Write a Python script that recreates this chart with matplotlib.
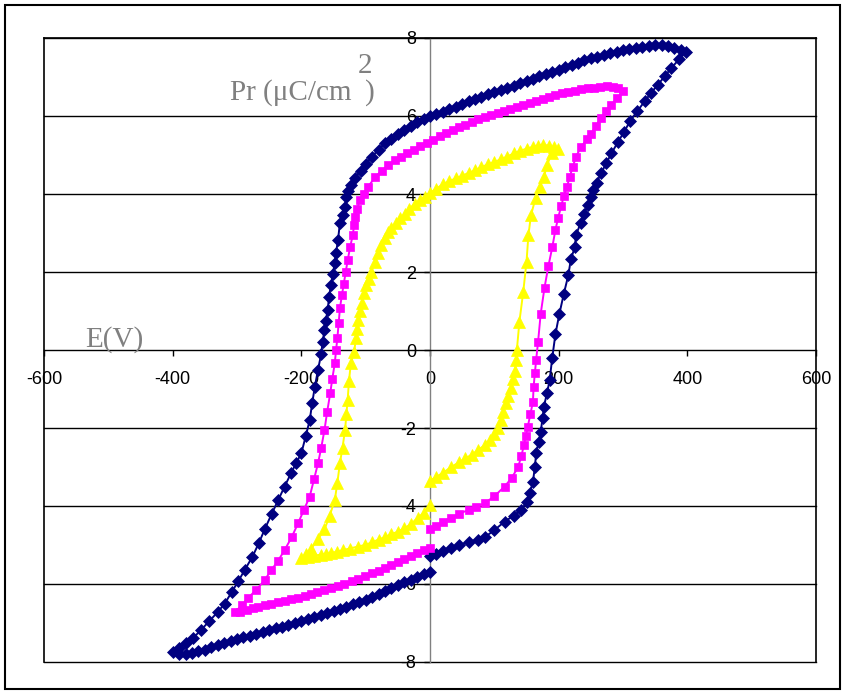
import matplotlib
matplotlib.use('Agg')
import matplotlib.pyplot as plt
from matplotlib.patches import Rectangle

plt.rcParams['font.family'] = ['Liberation Sans', 'DejaVu Sans']

# ---- data (E in V, P in uC/cm2), traversal order ----
navy_pts = [
    (0, -5.28), (10, -5.22), (20, -5.15), (33, -5.08), (45, -5.0), (60, -4.93), (75, -4.86), (85, -4.8),
    (100, -4.62), (116, -4.4), (130, -4.25), (142, -4.1), (150, -3.9), (155, -3.67), (160, -3.38),
    (163, -3.0), (165, -2.65), (169, -2.35), (172, -2.1), (175, -1.75), (177, -1.45), (182, -1.1),
    (186, -0.77), (190, -0.2), (195, 0.41), (201, 0.92), (208, 1.44), (215, 1.92), (219, 2.33),
    (225, 2.63), (227, 2.95), (234, 3.25), (239, 3.49), (246, 3.72), (250, 3.93), (253, 4.1),
    (259, 4.29), (266, 4.53), (274, 4.79), (282, 5.04), (292, 5.33), (302, 5.6), (311, 5.87),
    (322, 6.12), (334, 6.38), (344, 6.6), (354, 6.8), (365, 7.02), (375, 7.23), (387, 7.45), (398, 7.64),
    (390, 7.7), (380, 7.75), (370, 7.79), (360, 7.81), (350, 7.81), (340, 7.79), (330, 7.77), (320, 7.74),
    (310, 7.71), (300, 7.69), (290, 7.65), (280, 7.61), (270, 7.56), (260, 7.52), (250, 7.48), (240, 7.43),
    (230, 7.37), (220, 7.3), (210, 7.25), (200, 7.19), (190, 7.14), (180, 7.08), (170, 7.02), (160, 6.96),
    (150, 6.9), (140, 6.84), (130, 6.78), (120, 6.72), (110, 6.67), (100, 6.62), (90, 6.56), (80, 6.5),
    (70, 6.44), (60, 6.38), (50, 6.31), (40, 6.24), (30, 6.18), (20, 6.11), (10, 6.05), (0, 5.99),
    (-10, 5.92), (-20, 5.84), (-30, 5.75), (-40, 5.65), (-50, 5.55), (-60, 5.42), (-70, 5.3), (-80, 5.14),
    (-90, 4.96), (-100, 4.77), (-108, 4.6), (-117, 4.4), (-123, 4.22), (-127, 4.08), (-130, 3.93),
    (-132, 3.67), (-136, 3.45), (-140, 3.26), (-143, 2.82), (-146, 2.5), (-148, 2.23), (-151, 1.95),
    (-154, 1.67), (-157, 1.35), (-159, 1.03), (-162, 0.75), (-164, 0.51), (-167, 0.2), (-169, -0.09),
    (-174, -0.5), (-179, -0.94), (-183, -1.35), (-187, -1.8), (-193, -2.2), (-200, -2.65), (-208, -2.9),
    (-216, -3.16), (-226, -3.5), (-236, -3.85), (-246, -4.2), (-257, -4.6), (-266, -4.95), (-276, -5.3),
    (-288, -5.64), (-298, -5.93), (-308, -6.2), (-319, -6.5), (-330, -6.72), (-343, -6.95), (-356, -7.18),
    (-368, -7.38), (-380, -7.52), (-390, -7.64), (-400, -7.74),
    (-390, -7.8), (-380, -7.79), (-370, -7.76), (-360, -7.72), (-350, -7.68), (-340, -7.62), (-330, -7.57),
    (-320, -7.52), (-310, -7.47), (-300, -7.42), (-290, -7.37), (-280, -7.33), (-270, -7.28), (-260, -7.23),
    (-250, -7.18), (-240, -7.14), (-230, -7.09), (-220, -7.04), (-210, -6.99), (-200, -6.94), (-190, -6.89),
    (-180, -6.84), (-170, -6.79), (-160, -6.74), (-150, -6.69), (-140, -6.64), (-130, -6.58), (-120, -6.52),
    (-110, -6.47), (-100, -6.4), (-90, -6.33), (-80, -6.26), (-70, -6.19), (-60, -6.11), (-50, -6.03),
    (-40, -5.96), (-30, -5.89), (-20, -5.81), (-10, -5.75), (0, -5.68),
]

magenta_pts = [
    (0, -4.6), (10, -4.5), (20, -4.4), (33, -4.3), (45, -4.2), (60, -4.1), (72, -4.02), (85, -3.93),
    (100, -3.75), (116, -3.5), (127, -3.28), (137, -3.0), (142, -2.72), (146, -2.44), (149, -2.2),
    (152, -1.97), (156, -1.65), (160, -1.33), (161, -0.95), (163, -0.6), (165, -0.25), (168, 0.21),
    (172, 0.92), (178, 1.6), (184, 2.15), (190, 2.63), (195, 3.08), (199, 3.38), (204, 3.69), (208, 3.95),
    (213, 4.19), (217, 4.43), (222, 4.7), (227, 4.96), (235, 5.21), (244, 5.4), (251, 5.55), (258, 5.75),
    (266, 5.95), (274, 6.12), (282, 6.29), (290, 6.45), (300, 6.63),
    (293, 6.72), (285, 6.75), (275, 6.76), (265, 6.75), (255, 6.73), (245, 6.71), (235, 6.68), (225, 6.65),
    (215, 6.62), (205, 6.58), (195, 6.53), (185, 6.48), (175, 6.43), (165, 6.38), (155, 6.33), (145, 6.28),
    (135, 6.23), (125, 6.18), (115, 6.13), (105, 6.08), (95, 6.03), (85, 5.97), (75, 5.92), (65, 5.85),
    (55, 5.78), (45, 5.71), (35, 5.63), (25, 5.56), (15, 5.48), (5, 5.39), (-5, 5.31), (-15, 5.23),
    (-25, 5.14), (-35, 5.05), (-45, 4.96), (-55, 4.86), (-65, 4.74), (-75, 4.6), (-85, 4.44), (-96, 4.19),
    (-103, 4.0), (-109, 3.85), (-113, 3.62), (-117, 3.42), (-118, 3.2), (-120, 2.95), (-124, 2.65),
    (-128, 2.3), (-131, 2.0), (-134, 1.7), (-137, 1.4), (-140, 1.07), (-142, 0.7), (-144, 0.3), (-146, 0.0),
    (-148, -0.34), (-152, -0.75), (-155, -1.1), (-160, -1.6), (-164, -2.05), (-169, -2.5), (-174, -2.9),
    (-180, -3.3), (-187, -3.76), (-196, -4.1), (-205, -4.44), (-215, -4.8), (-226, -5.13), (-236, -5.4),
    (-247, -5.65), (-257, -5.9), (-270, -6.15), (-283, -6.36), (-293, -6.55), (-303, -6.72),
    (-295, -6.71), (-285, -6.66), (-275, -6.62), (-267, -6.59), (-257, -6.55), (-247, -6.51), (-236, -6.47),
    (-226, -6.43), (-216, -6.39), (-205, -6.35), (-195, -6.3), (-185, -6.25), (-175, -6.2), (-164, -6.15),
    (-154, -6.1), (-143, -6.04), (-133, -5.99), (-122, -5.93), (-112, -5.87), (-101, -5.8), (-90, -5.73),
    (-80, -5.66), (-70, -5.58), (-60, -5.5), (-50, -5.43), (-40, -5.36), (-30, -5.28), (-20, -5.2),
    (-10, -5.13), (0, -5.08),
]

yellow_pts = [
    (0, -3.35), (10, -3.25), (20, -3.15), (33, -3.0), (45, -2.88), (55, -2.78), (65, -2.68), (75, -2.56),
    (85, -2.44), (93, -2.3), (100, -2.15), (106, -2.0), (110, -1.8), (114, -1.6), (118, -1.37),
    (122, -1.18), (126, -0.98), (129, -0.75), (132, -0.55), (134, -0.25), (135, 0.0), (139, 0.73),
    (145, 1.5), (150, 2.26), (153, 2.95), (157, 3.46), (164, 3.89), (171, 4.19), (177, 4.44), (182, 4.74),
    (189, 5.04), (199, 5.15),
    (192, 5.2), (185, 5.24), (176, 5.26), (168, 5.24), (160, 5.21), (150, 5.16), (140, 5.11), (130, 5.04),
    (120, 4.96), (110, 4.89), (100, 4.82), (90, 4.76), (80, 4.69), (70, 4.61), (60, 4.54), (50, 4.47),
    (40, 4.4), (30, 4.33), (20, 4.25), (10, 4.14), (0, 4.03), (-8, 3.93), (-16, 3.84), (-24, 3.75),
    (-32, 3.62), (-39, 3.5), (-46, 3.38), (-53, 3.25), (-60, 3.12), (-65, 3.03), (-70, 2.88), (-76, 2.68),
    (-81, 2.48), (-86, 2.25), (-91, 2.0), (-95, 1.83), (-99, 1.67), (-103, 1.45), (-106, 1.2), (-109, 1.0),
    (-112, 0.77), (-114, 0.55), (-115, 0.3), (-118, -0.05), (-123, -0.34), (-126, -0.8), (-128, -1.28),
    (-130, -1.65), (-132, -2.05), (-136, -2.5), (-140, -2.9), (-144, -3.4), (-148, -3.85), (-156, -4.25),
    (-164, -4.6), (-174, -4.85), (-185, -5.1), (-193, -5.22), (-200, -5.34),
    (-190, -5.3), (-180, -5.27), (-170, -5.25), (-162, -5.23), (-154, -5.21), (-145, -5.17), (-135, -5.13),
    (-125, -5.09), (-112, -5.04), (-101, -5.0), (-90, -4.93), (-80, -4.86), (-70, -4.8), (-60, -4.72),
    (-50, -4.66), (-40, -4.57), (-30, -4.47), (-19, -4.3), (-10, -4.18), (0, -3.97),
]

x_ticks = [-600, -400, -200, 0, 200, 400, 600]
y_ticks = [-8, -6, -4, -2, 0, 2, 4, 6, 8]

W, H = 843, 692
fig = plt.figure(figsize=(W / 100, H / 100), dpi=100)
ax = fig.add_axes([44 / W, 1 - 662 / H, (816 - 44) / W, (662 - 38) / H])
ax.set_xlim(-600, 600)
ax.set_ylim(-8, 8)

# axes through origin
ax.spines['left'].set_position(('data', 0))
ax.spines['left'].set_color('#808080')
ax.spines['left'].set_linewidth(1.0)
ax.spines['bottom'].set_position(('data', 0))
ax.spines['bottom'].set_color('black')
ax.spines['bottom'].set_linewidth(1.0)
for s in ['top', 'right']:
    ax.spines[s].set_color('black')
    ax.spines[s].set_linewidth(1.2)

ax.set_xticks(x_ticks)
ax.set_xticklabels([str(v) for v in x_ticks])
ax.set_yticks(y_ticks)
ax.set_yticklabels([str(v) for v in y_ticks])
ax.tick_params(axis='x', direction='out', length=4, width=1, pad=11, labelsize=13, colors='black')
ax.tick_params(axis='y', direction='out', length=4, width=1, pad=6, labelsize=13, colors='black')
ax.set_axisbelow(True)

for yv in y_ticks:
    if yv == 0:
        continue
    ax.plot([-600, 600], [yv, yv], color='black', lw=1.0, zorder=0.6, clip_on=False)
ax.plot([-600, -600], [-8, 8], color='black', lw=1.2, zorder=0.6, clip_on=False)

series = [
    (navy_pts, '#000080', 'D', 5.8),
    (magenta_pts, '#FF00FF', 's', 6.2),
    (yellow_pts, '#FFFF00', '^', 8.0),
]
for pts, col, mk, ms in series:
    E = [p[0] for p in pts]
    P = [p[1] for p in pts]
    ax.plot(E, P, color=col, lw=1.4, marker=mk, ms=ms, mfc=col, mec=col, mew=0.5,
            zorder=3, clip_on=False)

# axis titles (Excel style, gray serif)
gray = '#808080'
fig.text(230 / W, 1 - 100 / H, 'Pr (\u03bcC/cm', color=gray, fontsize=21,
         family='Liberation Serif', va='baseline', ha='left')
fig.text(358 / W, 1 - 73 / H, '2', color=gray, fontsize=21,
         family='Liberation Serif', va='baseline', ha='left')
fig.text(365 / W, 1 - 100 / H, ')', color=gray, fontsize=21,
         family='Liberation Serif', va='baseline', ha='left')
fig.text(85 / W, 1 - 347 / H, 'E(V)', color=gray, fontsize=21,
         family='Liberation Serif', va='baseline', ha='left')

# outer chart frame
fig.patches.append(Rectangle((5 / W, 1 - 689 / H), (840 - 5) / W, (689 - 5) / H,
                             transform=fig.transFigure, fill=False, ec='black', lw=1.5))

fig.savefig('out.png', dpi=100)
